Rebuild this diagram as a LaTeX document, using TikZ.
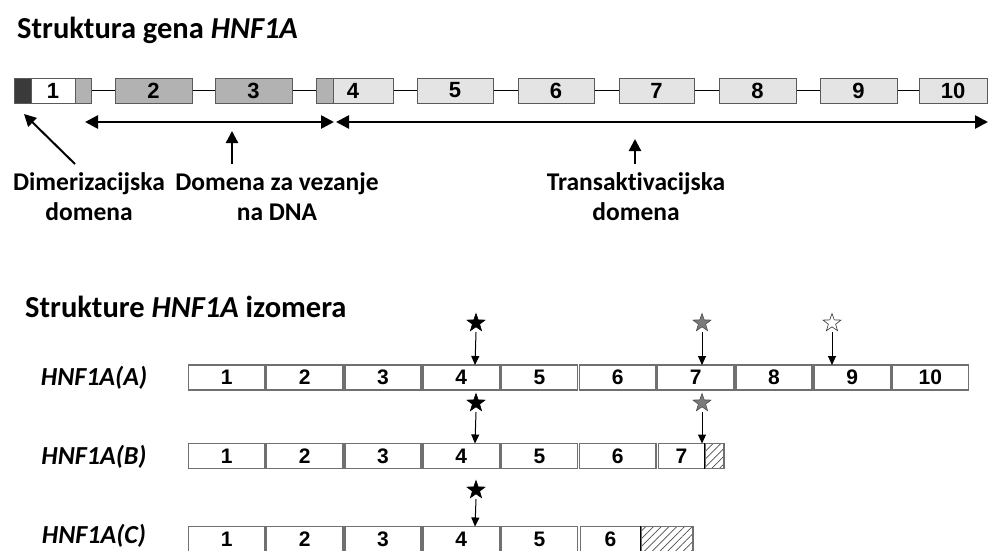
\documentclass[tikz,border=0pt]{standalone}
\usepackage{fontspec}
\setmainfont{Carlito}[Ligatures=NoCommon]
\newfontfamily\numfont{Liberation Sans}[BoldFont={Liberation Sans Bold}]
\usetikzlibrary{arrows.meta,shapes.geometric,patterns.meta}
\definecolor{tedge}{HTML}{5A5A5A}
\definecolor{dark}{HTML}{3A3A3A}
\definecolor{midg}{HTML}{B2B2B2}
\definecolor{lightg}{HTML}{E4E4E4}
\definecolor{bedge}{HTML}{707070}
\definecolor{stargray}{HTML}{7A7A7A}
\tikzset{
  topex/.style={draw=tedge, line width=1pt, minimum height=25pt, inner sep=0pt,
    font=\numfont\bfseries\fontsize{22}{22}\selectfont},
  isobox/.style={draw=bedge, line width=1.6pt, fill=white, minimum height=25pt, inner sep=0pt,
    font=\numfont\bfseries\fontsize{21}{21}\selectfont},
  hatchbox/.style={draw=bedge, line width=1.2pt, minimum height=25pt, inner sep=0pt,
    pattern={Lines[angle=45,distance=5.5pt,line width=0.7pt]}, pattern color=black!70},
  intron/.style={line width=1.3pt, black},
  dbl/.style={line width=2.6pt, {Triangle[length=13pt,width=13pt]}-{Triangle[length=13pt,width=13pt]}},
  ptr/.style={line width=2.4pt, -{Triangle[length=12pt,width=12pt]}},
  sptr/.style={line width=1pt, -{Triangle[length=9pt,width=8pt]}},
  title/.style={font=\bfseries\fontsize{30.5}{34}\selectfont, anchor=west, inner sep=0pt},
  lab/.style={font=\bfseries\fontsize{25.5}{30}\selectfont, align=center, inner sep=0pt},
  isolab/.style={font=\bfseries\itshape\fontsize{26}{30}\selectfont, inner sep=0pt},
  starbase/.style={star, star points=5, star point ratio=2.5, minimum size=19pt, inner sep=0pt, line width=0.6pt},
  sblack/.style={starbase, fill=black, draw=black},
  sgray/.style={starbase, fill=stargray, draw=black!70},
  swhite/.style={starbase, fill=white, draw=black!80},
}
\begin{document}
\begin{tikzpicture}[x=1pt,y=-1pt]
\useasboundingbox (0,0) rectangle (988,550);
% ---------- top gene structure ----------
\node[title] (t1) at (17,30) {Struktura gena \textit{HNF1A}};
\node[topex, fill=dark, minimum width=17pt] (d1) at (22.5,90.5) {};
\node[topex, fill=white, minimum width=44pt] (e1) at (53,90.5) {1};
\node[topex, fill=midg, minimum width=16pt] (g1) at (83,90.5) {};
\node[topex, fill=midg, minimum width=77pt] (e2) at (153.5,90.5) {2};
\node[topex, fill=midg, minimum width=77pt] (e3) at (253.5,90.5) {3};
\node[topex, fill=midg, minimum width=17pt] (g4) at (324.5,90.5) {};
\node[topex, fill=lightg, minimum width=60pt] (e4) at (363,90.5) {};
\node[font=\numfont\bfseries\fontsize{22}{22}\selectfont, inner sep=0pt] (t4) at (353,90.5) {4};
\node[topex, fill=lightg, minimum width=76pt] (e5) at (455,90.5) {5};
\node[topex, fill=lightg, minimum width=76pt] (e6) at (556,90.5) {6};
\node[topex, fill=lightg, minimum width=75pt] (e7) at (656.5,90.5) {7};
\node[topex, fill=lightg, minimum width=77pt] (e8) at (757.5,90.5) {8};
\node[topex, fill=lightg, minimum width=77pt] (e9) at (858.5,90.5) {9};
\node[topex, fill=lightg, minimum width=68pt] (e10) at (953,90.5) {10};
\draw[intron] (g1.east) -- (e2.west);
\draw[intron] (e2.east) -- (e3.west);
\draw[intron] (e3.east) -- (g4.west);
\draw[intron] (e4.east) -- (e5.west);
\draw[intron] (e5.east) -- (e6.west);
\draw[intron] (e6.east) -- (e7.west);
\draw[intron] (e7.east) -- (e8.west);
\draw[intron] (e8.east) -- (e9.west);
\draw[intron] (e9.east) -- (e10.west);
% domain arrows
\coordinate (a1l) at (85,122);
\coordinate (a1r) at (334,122);
\coordinate (a2l) at (336,122);
\coordinate (a2r) at (988,122);
\draw[dbl] (a1l) -- (a1r);
\draw[dbl] (a2l) -- (a2r);
% labels
\node[lab] (ldim) at (89,197) {Dimerizacijska\\domena};
\node[lab] (ldna) at (277,197) {Domena za vezanje\\na DNA};
\node[lab] (ltra) at (636,197) {Transaktivacijska\\domena};
\coordinate (pdim) at (75,164);
\coordinate (tdim) at (24,114);
\draw[ptr, line width=2pt] (pdim) -- (tdim);
\coordinate (pdna) at (232,164);
\coordinate (tdna) at (232,131);
\draw[ptr] (pdna) -- (tdna);
\coordinate (ptra) at (635,164);
\coordinate (ttra) at (635,139);
\draw[ptr] (ptra) -- (ttra);
% ---------- isoforms ----------
\node[title] (t2) at (25,307) {Strukture \textit{HNF1A} izomera};
\node[isolab] (la) at (94,378) {HNF1A(A)};
\node[isolab] (lb) at (94,457) {HNF1A(B)};
\node[isolab] (lc) at (94,536) {HNF1A(C)};
% row A
\foreach \i in {1,...,10}{
  \node[isobox, minimum width=76.4pt] (a\i) at ({188+78.2*(\i-1)+38.6},377.5) {\i};
}
% row B
\foreach \i in {1,...,6}{
  \node[isobox, minimum width=76.4pt] (b\i) at ({188+78.2*(\i-1)+38.6},456) {\i};
}
\node[isobox, minimum width=46pt] (b7) at (681.5,456) {7};
\node[hatchbox, minimum width=19pt] (bh) at (714.5,456) {};
\draw[line width=1.2pt] (bh.north west) -- (bh.south west);
% row C
\foreach \i in {1,...,5}{
  \node[isobox, minimum width=76.4pt] (c\i) at ({188+78.2*(\i-1)+38.6},539) {\i};
}
\node[isobox, minimum width=60pt] (c6) at (610.5,539) {6};
\node[hatchbox, minimum width=52pt] (ch) at (667,539) {};
\draw[line width=1.2pt] (ch.north west) -- (ch.south west);
% stars and arrows above row A
\node[sblack] (s1) at (476,323) {};
\node[sgray] (s2) at (702,323) {};
\node[swhite] (s3) at (832,323) {};
\coordinate (q1) at (475,365);
\coordinate (q2) at (702,365);
\coordinate (q3) at (832,365);
\draw[sptr] ([yshift=-5pt]s1.south) -- (q1);
\draw[sptr] ([yshift=-5pt]s2.south) -- (q2);
\draw[sptr] ([yshift=-5pt]s3.south) -- (q3);
% above row B
\node[sblack] (s4) at (476,403) {};
\node[sgray] (s5) at (702,403) {};
\coordinate (q4) at (475,443.5);
\coordinate (q5) at (702,443.5);
\draw[sptr] ([yshift=-5pt]s4.south) -- (q4);
\draw[sptr] ([yshift=-5pt]s5.south) -- (q5);
% above row C
\node[sblack] (s6) at (476,490) {};
\coordinate (q6) at (475,526.5);
\draw[sptr] ([yshift=-5pt]s6.south) -- (q6);
\end{tikzpicture}
\end{document}
